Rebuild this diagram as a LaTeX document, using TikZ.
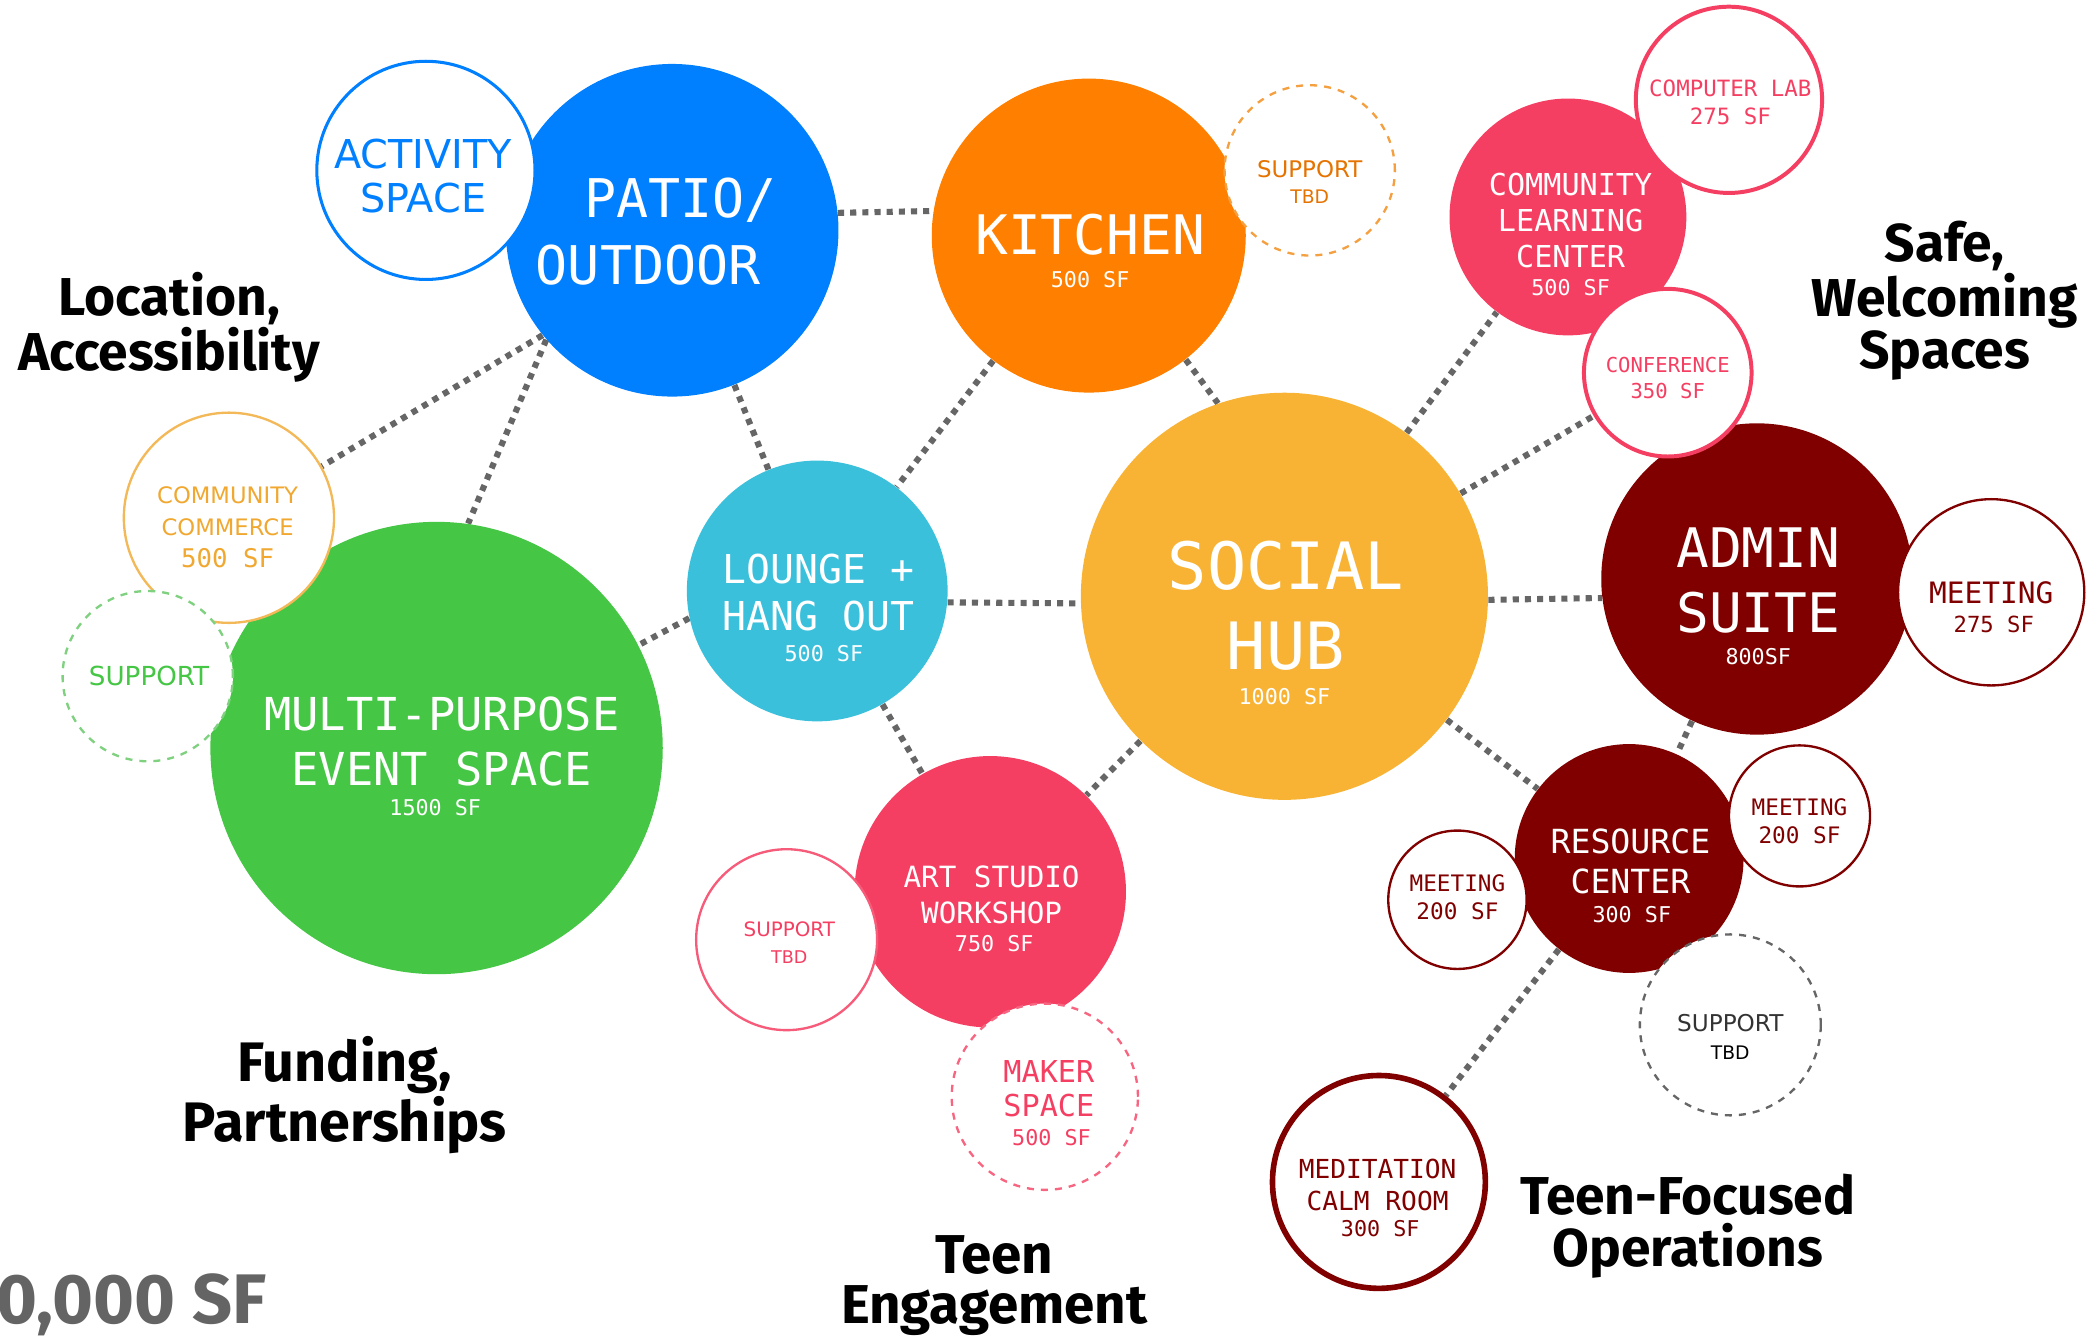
\documentclass[tikz,border=0pt]{standalone}
\usepackage{fontspec}
\usetikzlibrary{backgrounds}
\newfontfamily\bubmono{DejaVu Sans Mono}
\newfontfamily\bubsans{DejaVu Sans}
\newfontfamily\headfont{Fira Sans}

\definecolor{patioblue}{HTML}{0080FF}
\definecolor{kitchenorange}{HTML}{FF8000}
\definecolor{hubgold}{HTML}{F8B334}
\definecolor{roomred}{HTML}{F53F62}
\definecolor{adminred}{HTML}{800000}
\definecolor{loungecyan}{HTML}{3BC0DC}
\definecolor{eventgreen}{HTML}{45C645}
\definecolor{supgreen}{HTML}{7FD17F}
\definecolor{commercegold}{HTML}{F0A830}
\definecolor{suporange}{HTML}{F5A040}
\definecolor{linkgray}{HTML}{666666}
\definecolor{totalgray}{HTML}{646464}

\tikzset{
	% filled room bubbles
	room/.style={circle, inner sep=0pt, fill=#1},
	% white satellite bubbles drawn on top
	side/.style={circle, inner sep=0pt, draw=#1, fill=white, line width=1pt},
	rad/.style={minimum size=#1*0.04cm},
	% dotted connectors
	link/.style={draw=linkgray, line width=2.6pt, dash pattern=on 2.6pt off 2.6pt},
	lab/.style={align=center, inner sep=0pt, text=#1},
	goal/.style={align=center, inner sep=0pt, font=\headfont\bfseries\fontsize{22.8}{22.2}\selectfont},
}

\begin{document}
\begin{tikzpicture}[x=0.02cm, y=-0.02cm]
	\useasboundingbox (0,0) rectangle (1568,1007);

	% main rooms
	\node[room=patioblue, rad=125] (patio) at (505,173) {};
	\node[room=kitchenorange, rad=118] (kitchen) at (818,177) {};
	\node[room=roomred, rad=89] (learning) at (1178,163) {};
	\node[room=hubgold, rad=153] (hub) at (965,448) {};
	\node[room=adminred, rad=117] (admin) at (1320,435) {};
	\node[room=loungecyan, rad=98] (lounge) at (614,444) {};
	\node[room=eventgreen, rad=170] (event) at (328,562) {};
	\node[room=roomred, rad=102] (art) at (744,670) {};
	\node[room=adminred, rad=86] (resource) at (1224,645) {};

	% satellites
	\node[side=patioblue, rad=82, line width=1.3pt] (activity) at (320,128) {};
	\node[side=suporange, rad=64, dashed] (kitsup) at (984,128) {};
	\node[side=roomred, rad=70, line width=1.7pt] (complab) at (1299,75) {};
	\node[side=roomred, rad=63, line width=1.7pt] (conf) at (1253,280) {};
	\node[side=adminred, rad=70] (meetA) at (1496,445) {};
	\node[side=commercegold!80, rad=79] (commerce) at (172,389) {};
	\node[side=supgreen, rad=64, dashed] (evsup) at (111,508) {};
	\node[side=roomred!85, rad=68] (artsup) at (591,706) {};
	\node[side=roomred!80, rad=70, dashed] (maker) at (785,824) {};
	\node[side=adminred, rad=53] (meetB) at (1352,613) {};
	\node[side=adminred, rad=52] (meetC) at (1095,676) {};
	\node[side=linkgray, rad=68, dashed] (ressup) at (1300,770) {};
	\node[side=adminred, rad=80, line width=2.4pt] (calm) at (1036,888) {};

	% room names
	\node[lab=white, font=\bubmono\fontsize{22.8}{28.5}\selectfont] (patioT) at (487,174) {~~PATIO/\\OUTDOOR};
	\node[lab=white, font=\bubmono\fontsize{23.3}{28}\selectfont] (kitchenT) at (819,176) {KITCHEN};
	\node[lab=white, font=\bubmono\fontsize{9.3}{11}\selectfont] (kitchenA) at (819,210) {500 SF};
	\node[lab=white, font=\bubmono\fontsize{27.9}{34}\selectfont] (hubT) at (966,455) {SOCIAL\\HUB};
	\node[lab=white, font=\bubmono\fontsize{9.3}{11}\selectfont] (hubA) at (965,523) {1000 SF};
	\node[lab=white, font=\bubmono\fontsize{23.3}{28}\selectfont] (adminT) at (1321,436) {ADMIN\\SUITE};
	\node[lab=white, font=\bubmono\fontsize{9.3}{11}\selectfont] (adminA) at (1321,493) {800SF};
	\node[lab=white, font=\bubmono\fontsize{17}{20}\selectfont] (loungeT) at (615,445) {LOUNGE +\\HANG OUT};
	\node[lab=white, font=\bubmono\fontsize{9.3}{11}\selectfont] (loungeA) at (619,491) {500 SF};
	\node[lab=white, font=\bubmono\fontsize{19.4}{23.3}\selectfont] (eventT) at (332,557) {MULTI-PURPOSE\\EVENT SPACE};
	\node[lab=white, font=\bubmono\fontsize{9.3}{11}\selectfont] (eventA) at (327,607) {1500 SF};
	\node[lab=white, font=\bubmono\fontsize{12.5}{15.4}\selectfont] (artT) at (745,672) {ART STUDIO\\WORKSHOP};
	\node[lab=white, font=\bubmono\fontsize{9.3}{11}\selectfont] (artA) at (747,709) {750 SF};
	\node[lab=white, font=\bubmono\fontsize{14.2}{17}\selectfont] (resourceT) at (1225,647) {RESOURCE\\CENTER};
	\node[lab=white, font=\bubmono\fontsize{9.3}{11}\selectfont] (resourceA) at (1226,687) {300 SF};
	\node[lab=white, font=\bubmono\fontsize{12.9}{15.4}\selectfont] (learningT) at (1180,166) {COMMUNITY\\LEARNING\\CENTER};
	\node[lab=white, font=\bubmono\fontsize{9.3}{11}\selectfont] (learningA) at (1180,216) {500 SF};

	% satellite names
	\node[lab=patioblue, font=\bubsans\fontsize{17}{18.8}\selectfont] (activityT) at (318,132) {ACTIVITY\\SPACE};
	\node[lab=kitchenorange!90!black, font=\bubsans\fontsize{9.8}{11}\selectfont] (kitsupT) at (984,127) {SUPPORT};
	\node[lab=kitchenorange!90!black, font=\bubsans\fontsize{8}{10}\selectfont] (kitsupA) at (984,148) {TBD};
	\node[lab=roomred, font=\bubmono\fontsize{9.6}{12}\selectfont] (complabT) at (1300,77) {COMPUTER LAB\\275 SF};
	\node[lab=roomred, font=\bubmono\fontsize{8.8}{11.4}\selectfont] (confT) at (1253,284) {CONFERENCE\\350 SF};
	\node[lab=adminred, font=\bubmono\fontsize{12.6}{14}\selectfont] (meetAT) at (1496,445) {MEETING};
	\node[lab=adminred, font=\bubmono\fontsize{9.5}{11}\selectfont] (meetAA) at (1498,469) {275 SF};
	\node[lab=commercegold, font=\bubsans\fontsize{9.7}{13.7}\selectfont] (commerceT) at (171,384) {COMMUNITY\\COMMERCE};
	\node[lab=commercegold, font=\bubmono\fontsize{11}{13}\selectfont] (commerceA) at (171,419) {500 SF};
	\node[lab=eventgreen, font=\bubsans\fontsize{11.2}{13}\selectfont] (evsupT) at (112,508) {SUPPORT};
	\node[lab=roomred, font=\bubsans\fontsize{8.5}{10}\selectfont] (artsupT) at (593,698) {SUPPORT};
	\node[lab=roomred, font=\bubsans\fontsize{7.5}{9}\selectfont] (artsupA) at (593,719) {TBD};
	\node[lab=roomred, font=\bubmono\fontsize{12.9}{14.8}\selectfont] (makerT) at (788,818) {MAKER\\SPACE};
	\node[lab=roomred, font=\bubmono\fontsize{9.3}{11}\selectfont] (makerA) at (790,855) {500 SF};
	\node[lab=adminred, font=\bubmono\fontsize{9.7}{12}\selectfont] (meetBT) at (1352,617) {MEETING\\200 SF};
	\node[lab=adminred, font=\bubmono\fontsize{9.7}{12}\selectfont] (meetCT) at (1095,674) {MEETING\\200 SF};
	\node[lab=black!80, font=\bubsans\fontsize{9.9}{11}\selectfont] (ressupT) at (1300,769) {SUPPORT};
	\node[lab=black, font=\bubsans\fontsize{8}{10}\selectfont] (ressupA) at (1300,791) {TBD};
	\node[lab=adminred, font=\bubmono\fontsize{11.2}{13.7}\selectfont] (calmT) at (1035,890) {MEDITATION\\CALM ROOM};
	\node[lab=adminred, font=\bubmono\fontsize{9.3}{11}\selectfont] (calmA) at (1037,923) {300 SF};

	% goals
	\node[goal] (locT) at (127,246) {Location,\\Accessibility};
	\node[goal] (safeT) at (1461,226) {Safe,\\Welcoming\\Spaces};
	\node[goal, font=\headfont\bfseries\fontsize{23.8}{22.2}\selectfont] (fundT) at (259,823) {Funding,\\Partnerships};
	\node[goal, font=\headfont\bfseries\fontsize{23.4}{21.6}\selectfont] (engT) at (747,966) {Teen\\Engagement};
	\node[goal] (opsT) at (1268,921) {Teen-Focused\\Operations};
	\node[anchor=west, inner sep=0pt, text=totalgray, font=\headfont\bfseries\fontsize{30}{32}\selectfont] (total) at (-3,980) {0,000 SF};

	% connectors
	\begin{scope}[on background layer]
		\draw[link] (patio.6) -- (kitchen.171);
		\draw[link] (patio.219) -- (commerce.29);
		\draw[link] (patio.221) -- (event.82);
		\draw[link] (patio) -- (lounge);
		\draw[link] (kitchen) -- (lounge);
		\draw[link] (kitchen.308) -- (hub.109);
		\draw[link] (lounge.-5) -- (hub.182);
		\draw[link] (lounge.192) -- (event.27);
		\draw[link] (lounge) -- (art);
		\draw[link] (hub) -- (art);
		\draw[link] (hub) -- (learning);
		\draw[link] (hub) -- (conf);
		\draw[link] (hub.-1.5) -- (admin.187);
		\draw[link] (hub) -- (resource);
		\draw[link] (admin) -- (resource);
		\draw[link] (resource) -- (calm);
	\end{scope}
\end{tikzpicture}
\end{document}
